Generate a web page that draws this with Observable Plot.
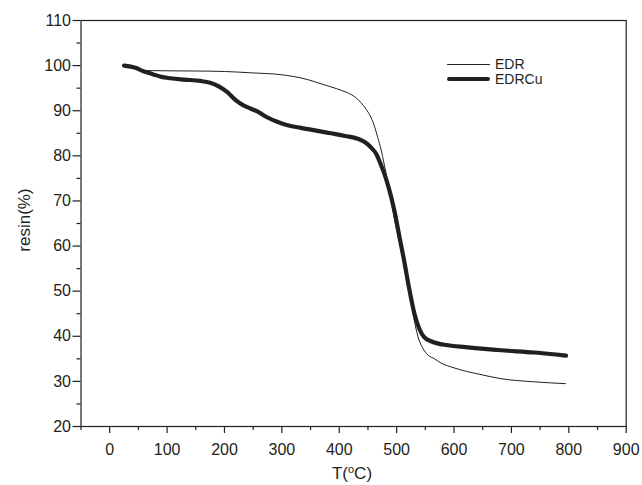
<!DOCTYPE html>
<html><head><meta charset="utf-8">
<script src="https://cdn.jsdelivr.net/npm/d3@7"></script>
<script src="https://cdn.jsdelivr.net/npm/@observablehq/plot@0.6"></script>
<style>
body{margin:0;background:#fff;}
#wrap{position:relative;width:642px;height:485px;font-family:"Liberation Sans",Arial,sans-serif;color:#231f20;}
.lab{position:absolute;font-size:17px;white-space:nowrap;line-height:1;}
.leg{position:absolute;left:447px;font-size:14px;display:flex;align-items:center;line-height:1;height:14px;}
.leg span{display:inline-block;width:43px;background:#231f20;margin-right:5px;}
</style>
</head><body><div id="wrap"></div>
<script>
// EDR (thin line)
const edrT = [25,45,60,100,150,200,246,298,320,345,370,395,414,428,437,447,455,462,467,473,478,484,490,500,513,522,530,537,545,555,566,577,600,647,682,740,794];
const edrV = [100,99.5,98.9,98.85,98.8,98.7,98.4,98.0,97.6,96.9,95.9,94.9,94.0,93.0,91.9,90.3,88.6,86.3,84.1,81.3,78.3,74.5,70.2,63.5,56.3,50.0,44.0,40.0,37.5,35.8,35.0,34.1,33.0,31.5,30.6,29.9,29.5];
// EDRCu (thick line)
const cuT = [25,45,60,75,90,106,130,158,175,190,205,220,233,245,258,275,293,310,333,360,385,410,432,445,455,465,472,480,486,496,505,513,522,531,540,548,560,589,620,682,740,795];
const cuV = [100,99.5,98.7,98.1,97.5,97.2,96.9,96.6,96.2,95.4,94.1,92.3,91.2,90.5,89.8,88.5,87.5,86.8,86.2,85.6,85.0,84.4,83.8,83.0,81.9,80.3,78.2,75.5,73.0,67.9,62.0,56.8,50.5,45.0,41.5,39.8,38.9,38.0,37.6,36.9,36.4,35.7];
const seriesNames = ["EDR","EDRCu"];
const xMajor = [0,100,200,300,400,500,600,700,800,900];
const xMinor = [-50,50,150,250,350,450,550,650,750,850];
const yMajor = [20,30,40,50,60,70,80,90,100,110];
const yMinor = [25,35,45,55,65,75,85,95,105];

const edr = edrT.map((t,i)=>({t, v: edrV[i]}));
const cu = cuT.map((t,i)=>({t, v: cuV[i]}));
const ink = "#231f20";

const chart = Plot.plot({
  width: 642, height: 485,
  marginLeft: 80.5, marginRight: 16.3, marginTop: 20, marginBottom: 59,
  style: {fontFamily: '"Liberation Sans", Arial, sans-serif', fontSize: "16px", color: ink, background: "#fff"},
  x: {domain: [-50, 900], label: null},
  y: {domain: [20, 110], label: null},
  marks: [
    Plot.frame({stroke: ink, strokeWidth: 1.2}),
    Plot.axisX({ticks: xMajor, tickSize: 7, tickPadding: 10, tickFormat: d => String(d), stroke: ink, strokeWidth: 1.2, fontSize: 16, label: null}),
    Plot.axisX({ticks: xMinor, tickSize: 4, text: null, stroke: ink, strokeWidth: 1.2, label: null}),
    Plot.axisY({ticks: yMajor, tickSize: 8, tickPadding: 2, tickFormat: d => String(d), stroke: ink, strokeWidth: 1.2, fontSize: 16, label: null}),
    Plot.axisY({ticks: yMinor, tickSize: 4, text: null, stroke: ink, strokeWidth: 1.2, label: null}),
    Plot.line(edr, {x: "t", y: "v", curve: "monotone-x", stroke: ink, strokeWidth: 1}),
    Plot.line(cu, {x: "t", y: "v", curve: "monotone-x", stroke: ink, strokeWidth: 4.2})
  ]
});
const wrap = document.getElementById("wrap");
wrap.appendChild(chart);

const xl = document.createElement("div");
xl.className = "lab";
xl.innerHTML = 'T(<sup style="font-size:11px;vertical-align:6px">o</sup>C)';
xl.style.left = "352px"; xl.style.top = "464px"; xl.style.transform = "translateX(-50%)";
wrap.appendChild(xl);

const yl = document.createElement("div");
yl.className = "lab";
yl.textContent = "resin(%)";
yl.style.left = "24px"; yl.style.top = "220px"; yl.style.transform = "translate(-50%,-50%) rotate(-90deg)";
wrap.appendChild(yl);

const legTops = [57, 72];
const legW = [1, 4.2];
seriesNames.forEach((n,i)=>{
  const d = document.createElement("div");
  d.className = "leg";
  d.style.top = legTops[i] + "px";
  d.innerHTML = `<span style="height:${legW[i]}px;border-radius:2px"></span>${n}`;
  wrap.appendChild(d);
});
</script>
</body></html>
